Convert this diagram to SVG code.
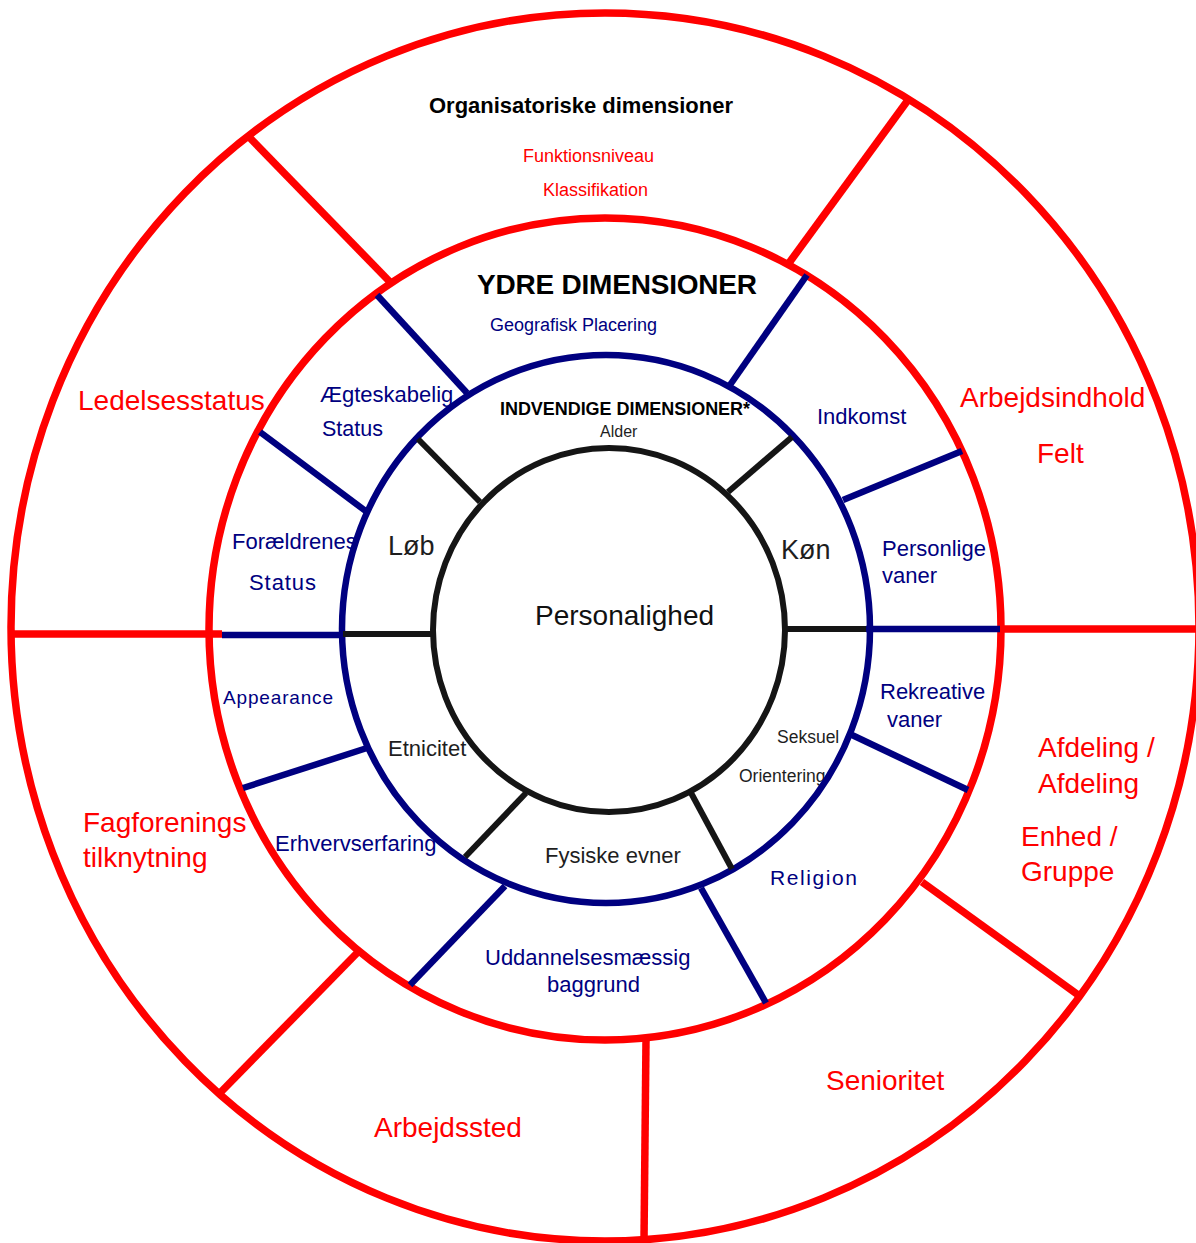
<svg xmlns="http://www.w3.org/2000/svg" width="1196" height="1243" viewBox="0 0 1196 1243">
<style>
text{font-family:"Liberation Sans",Arial,Helvetica,sans-serif}
.red{fill:#ff0000;font-size:28px}
.blue{fill:#000080;font-size:22px}
.ink{fill:#1e1e1e;font-size:22px}
.hd{fill:#000;font-weight:bold}
.rl{stroke:#ff0000;stroke-width:7.5;fill:none}
.bl{stroke:#000080;stroke-width:6.5;fill:none}
.kl{stroke:#151515;stroke-width:6;fill:none}
</style>
<rect width="1196" height="1243" fill="#fff"/>
<g id="labels-organisational">
<g id="n-org-title"><text class="hd" x="429" y="113" font-size="22" textLength="304" lengthAdjust="spacing">Organisatoriske dimensioner</text></g>
<g id="n-funktionsniveau"><text class="red" x="523" y="162" style="font-size:18px">Funktionsniveau</text></g>
<g id="n-klassifikation"><text class="red" x="543" y="196" style="font-size:18px">Klassifikation</text></g>
<g id="n-ledelsesstatus"><text class="red" x="78" y="410">Ledelsesstatus</text></g>
<g id="n-arbejdsindhold"><text class="red" x="960" y="407">Arbejdsindhold</text><text class="red" x="1037" y="463">Felt</text></g>
<g id="n-afdeling"><text class="red" x="1038" y="757">Afdeling /</text><text class="red" x="1038" y="793">Afdeling</text></g>
<g id="n-enhed"><text class="red" x="1021" y="846">Enhed /</text><text class="red" x="1021" y="881">Gruppe</text></g>
<g id="n-senioritet"><text class="red" x="826" y="1090">Senioritet</text></g>
<g id="n-arbejdssted"><text class="red" x="374" y="1137">Arbejdssted</text></g>
<g id="n-fagforenings"><text class="red" x="83" y="832">Fagforenings</text><text class="red" x="83" y="867">tilknytning</text></g>
</g>
<g id="labels-external">
<g id="n-ydre-title"><text class="hd" x="477" y="294" font-size="28" textLength="280" lengthAdjust="spacing">YDRE DIMENSIONER</text></g>
<g id="n-geografisk"><text class="blue" x="490" y="331" style="font-size:18px">Geografisk Placering</text></g>
<g id="n-aegteskabelig"><text class="blue" x="320" y="402">Ægteskabelig</text><text class="blue" x="322" y="436" style="font-size:21.5px">Status</text></g>
<g id="n-foraeldrenes"><text class="blue" x="232" y="549">Forældrenes</text><text class="blue" x="249" y="590" textLength="67" lengthAdjust="spacing">Status</text></g>
<g id="n-appearance"><text class="blue" x="223" y="704" style="font-size:19px" textLength="110" lengthAdjust="spacing">Appearance</text></g>
<g id="n-erhvervserfaring"><text class="blue" x="275" y="851">Erhvervserfaring</text></g>
<g id="n-uddannelse"><text class="blue" x="485" y="965">Uddannelsesmæssig</text><text class="blue" x="547" y="992">baggrund</text></g>
<g id="n-religion"><text class="blue" x="770" y="885" style="font-size:21px" textLength="87" lengthAdjust="spacing">Religion</text></g>
<g id="n-rekreative"><text class="blue" x="880" y="699">Rekreative</text><text class="blue" x="887" y="727">vaner</text></g>
<g id="n-personlige"><text class="blue" x="882" y="556">Personlige</text><text class="blue" x="882" y="583">vaner</text></g>
<g id="n-indkomst"><text class="blue" x="817" y="424">Indkomst</text></g>
</g>
<g id="labels-internal">
<g id="n-indvendige-title"><text class="hd" x="500" y="415" font-size="18" textLength="250" lengthAdjust="spacing">INDVENDIGE DIMENSIONER*</text></g>
<g id="n-alder"><text class="ink" x="600" y="437" style="font-size:16px">Alder</text></g>
<g id="n-lob"><text class="ink" x="388" y="555" style="font-size:27px">Løb</text></g>
<g id="n-kon"><text class="ink" x="781" y="559" style="font-size:27px">Køn</text></g>
<g id="n-etnicitet"><text class="ink" x="388" y="756">Etnicitet</text></g>
<g id="n-fysiske"><text class="ink" x="545" y="863">Fysiske evner</text></g>
<g id="n-seksuel"><text class="ink" x="777" y="743" style="font-size:17.5px">Seksuel</text><text class="ink" x="739" y="782" style="font-size:17.5px">Orientering</text></g>
<g id="n-personalighed"><text class="ink" x="535" y="625" style="font-size:28px;fill:#111">Personalighed</text></g>
</g>
<g id="rings">
<ellipse class="rl" cx="605" cy="627" rx="594" ry="614"/>
<ellipse class="rl" cx="605" cy="629" rx="396" ry="411"/>
<ellipse class="bl" cx="606" cy="629" rx="264" ry="274"/>
<ellipse class="kl" cx="609" cy="630" rx="176" ry="182"/>
</g>
<g id="connectors">
<g id="red-spokes" class="rl">
<line x1="249" y1="137" x2="391" y2="283"/>
<line x1="908" y1="100" x2="789" y2="263"/>
<line x1="1000" y1="629" x2="1196" y2="629"/>
<line x1="12" y1="634" x2="222" y2="634"/>
<line x1="922" y1="882" x2="1081" y2="997"/>
<line x1="646" y1="1040" x2="644" y2="1240"/>
<line x1="358" y1="952" x2="218" y2="1095"/>
</g>
<g id="blue-spokes" class="bl">
<line x1="377" y1="295" x2="467" y2="393"/>
<line x1="807" y1="275" x2="730" y2="385"/>
<line x1="260" y1="432" x2="367" y2="512"/>
<line x1="222" y1="635" x2="343" y2="635"/>
<line x1="243" y1="788" x2="367" y2="748"/>
<line x1="410" y1="985" x2="505" y2="886"/>
<line x1="701" y1="888" x2="766" y2="1003"/>
<line x1="852" y1="735" x2="968" y2="790"/>
<line x1="866" y1="629" x2="1000" y2="629"/>
<line x1="843" y1="500" x2="962" y2="451"/>
</g>
<g id="black-spokes" class="kl">
<line x1="418" y1="439" x2="480" y2="502"/>
<line x1="792" y1="437" x2="728" y2="492"/>
<line x1="343" y1="634" x2="432" y2="634"/>
<line x1="786" y1="629" x2="866" y2="629"/>
<line x1="465" y1="857" x2="526" y2="793"/>
<line x1="690" y1="791" x2="732" y2="869"/>
</g>
</g>
</svg>
